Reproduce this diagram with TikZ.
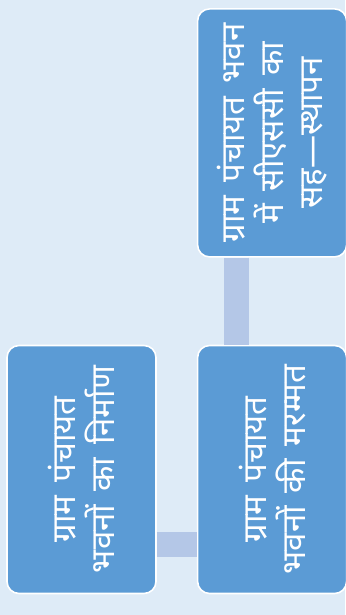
\documentclass[tikz,border=0pt]{standalone}
\usepackage{fontspec}
\newfontfamily\hindi[Script=Devanagari]{Noto Sans}
\usepackage{tikz}
\usetikzlibrary{positioning}
\definecolor{paper}{HTML}{DEEBF7}
\definecolor{boxblue}{HTML}{5B9BD5}
\definecolor{barblue}{HTML}{B4C7E7}
% text set sideways, read from bottom to top
\newcommand{\vlines}[1]{\rotatebox{90}{\parbox{245pt}{\centering\fontsize{33}{39}\selectfont\spaceskip=13pt plus 2pt #1}}}
\tikzset{
  stage/.style={rectangle,rounded corners=12pt,draw=white,line width=1.6pt,fill=boxblue,
    minimum width=149pt,minimum height=248pt,inner sep=0pt,text=white,font=\hindi},
  link/.style={draw=barblue,line width=25pt}
}

\begin{document}
\begin{tikzpicture}[x=1pt,y=1pt,node distance=40pt]
\fill[paper] (0,0) rectangle (345,-615);
\useasboundingbox (0,0) rectangle (345,-615);
\node[stage] (nirman) at (81.5,-469.5) {\vlines{ग्राम पंचायत\\ भवनों का निर्माण}};
\node[stage,right=of nirman] (marammat) {\vlines{ग्राम पंचायत\\ भवनों की मरम्मत}};
\node[stage,above=87pt of marammat] (sthapan) {\vlines{ग्राम पंचायत भवन\\ में सीएससी का\\ सह—स्थापन}};
\draw[link] ([yshift=-75pt]nirman.east) -- ([yshift=-75pt]marammat.west);
\draw[link] ([xshift=-35.5pt]sthapan.south) -- ([xshift=-35.5pt]marammat.north);
\end{tikzpicture}
\end{document}
